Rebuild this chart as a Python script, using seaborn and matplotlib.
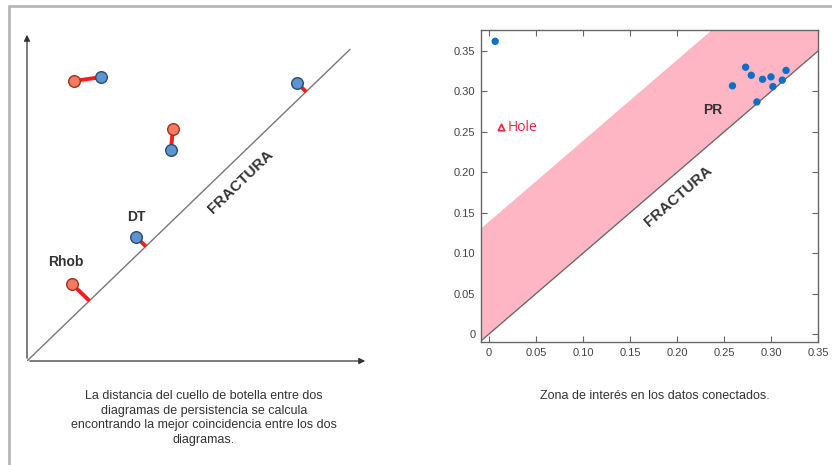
import numpy as np
import pandas as pd
import matplotlib
matplotlib.use("Agg")
import matplotlib.pyplot as plt
from matplotlib.lines import Line2D
import seaborn as sns

sns.set_theme(style="white")
plt.rcParams['font.family'] = ['Liberation Sans', 'DejaVu Sans']

# ---------------- Left panel data (abstract persistence diagram units) ----------------
red_x = [1.38, 4.28, 1.32]
red_y = [8.51, 7.05, 2.34]
blue_x = [2.17, 4.22, 7.92, 3.20]
blue_y = [8.63, 6.41, 8.45, 3.77]
# matching pairs: (start_x, start_y, end_x, end_y)
match_x0 = [1.38, 4.28, 7.92, 3.20, 1.32]
match_y0 = [8.51, 7.05, 8.45, 3.77, 2.34]
match_x1 = [2.17, 4.22, 8.185, 3.485, 1.83]
match_y1 = [8.63, 6.41, 8.185, 3.485, 1.83]
diag_end = 9.47

# ---------------- Right panel data ----------------
pr_x = [0.0066, 0.259, 0.273, 0.279, 0.291, 0.300, 0.302, 0.312, 0.316, 0.285]
pr_y = [0.362, 0.307, 0.330, 0.320, 0.315, 0.318, 0.306, 0.314, 0.326, 0.287]
hole_x = [0.0128]
hole_y = [0.256]
band_width = 0.14
ticks = [0, 0.05, 0.10, 0.15, 0.20, 0.25, 0.30, 0.35]
tick_labels = ["0", "0.05", "0.10", "0.15", "0.20", "0.25", "0.30", "0.35"]

W, H = 832, 465
fig = plt.figure(figsize=(W / 100, H / 100), dpi=100)

# outer frame lines
fig.add_artist(Line2D([9 / W, 1.0], [1 - 6 / H, 1 - 6 / H], color="#b8b8b8", lw=2))
fig.add_artist(Line2D([9 / W, 9 / W], [0, 1 - 6 / H], color="#b8b8b8", lw=2))

# ---------------- Left panel ----------------
axL = fig.add_axes([27 / W, (H - 361) / H, 341 / W, 329 / H])
axL.set_xlim(0, 10)
axL.set_ylim(0, 10)
axL.axis("off")
axL.annotate("", xy=(10, 0), xytext=(0, 0),
             arrowprops=dict(arrowstyle="-|>", color="#333333", lw=0.9, mutation_scale=9))
axL.annotate("", xy=(0, 10), xytext=(0, 0),
             arrowprops=dict(arrowstyle="-|>", color="#333333", lw=0.9, mutation_scale=9))
diag = pd.DataFrame({"x": [0, diag_end], "y": [0, diag_end]})
sns.lineplot(data=diag, x="x", y="y", ax=axL, color="#777777", lw=1.0)
for x0, y0, x1, y1 in zip(match_x0, match_y0, match_x1, match_y1):
    axL.plot([x0, x1], [y0, y1], color="#ff1a1a", lw=2.8, solid_capstyle="butt", zorder=3)
sns.scatterplot(x=red_x, y=red_y, ax=axL, color="#f47a60", edgecolor="#a03020",
                s=70, linewidth=1.0, zorder=4)
sns.scatterplot(x=blue_x, y=blue_y, ax=axL, color="#5a95d0", edgecolor="#2a4a78",
                s=70, linewidth=1.0, zorder=4)
axL.text(1.14, 3.01, "Rhob", fontsize=10, fontweight="bold", color="#333333",
         ha="center", va="center", family=["Liberation Sans"])
axL.text(3.20, 4.38, "DT", fontsize=10, fontweight="bold", color="#333333",
         ha="center", va="center", family=["Liberation Sans"])
axL.text(6.25, 5.44, "FRACTURA", fontsize=11, fontweight="bold", color="#333333",
         ha="center", va="center", rotation=44, rotation_mode="anchor", family=["Liberation Sans"])

# ---------------- Right panel ----------------
axR = fig.add_axes([481 / W, (H - 342) / H, 337 / W, 312 / H])
xlim = (-0.0085, 0.35)
ylim = (-0.0099, 0.376)
xb = np.array(xlim)
axR.fill_between(xb, xb, xb + band_width, color="#ffb6c4", lw=0, zorder=1)
sns.lineplot(x=list(xb), y=list(xb), ax=axR, color="#666666", lw=0.9, zorder=2)
sns.scatterplot(x=pr_x, y=pr_y, ax=axR, color="#0a6fc8", edgecolor="none", s=28, zorder=3)
sns.scatterplot(x=hole_x, y=hole_y, ax=axR, marker="^", color="white", edgecolor="#ff2040",
                s=22, linewidth=1.2, zorder=3)
axR.text(0.0195, 0.256, "Hole", fontsize=10, color="#ff2040", ha="left", va="center",
         family=["Open Sans", "DejaVu Sans"])
axR.text(0.238, 0.277, "PR", fontsize=10, fontweight="bold", color="#333333",
         ha="center", va="center", family=["Liberation Sans"])
axR.text(0.201, 0.170, "FRACTURA", fontsize=11, fontweight="bold", color="#333333",
         ha="center", va="center", rotation=41, rotation_mode="anchor", family=["Liberation Sans"])
axR.set_xlim(*xlim)
axR.set_ylim(*ylim)
axR.set_xticks(ticks)
axR.set_xticklabels(tick_labels)
axR.set_yticks(ticks)
axR.set_yticklabels(tick_labels)
axR.tick_params(direction="in", length=4, width=0.8, color="#666666", labelsize=8,
                labelcolor="#444444", top=True, right=True, bottom=True, left=True, pad=4)
for sp in axR.spines.values():
    sp.set_color("#666666")
    sp.set_linewidth(1.0)
axR.set_xlabel("")
axR.set_ylabel("")

# ---------------- Captions ----------------
fig.text(204 / W, 1 - 390 / H,
         "La distancia del cuello de botella entre dos\ndiagramas de persistencia se calcula\n"
         "encontrando la mejor coincidencia entre los dos\ndiagramas.",
         ha="center", va="top", fontsize=9, color="#333333", linespacing=1.3)
fig.text(655 / W, 1 - 390 / H, "Zona de interés en los datos conectados.",
         ha="center", va="top", fontsize=9, color="#333333")

fig.savefig("out.png", dpi=100)
